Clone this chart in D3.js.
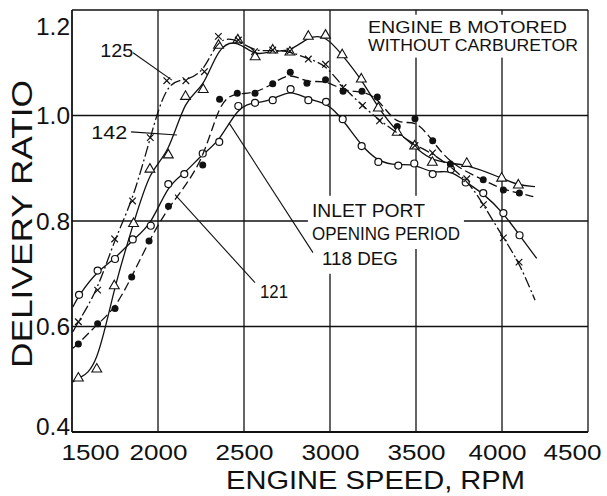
<!DOCTYPE html>
<html><head><meta charset="utf-8">
<script src="https://cdn.jsdelivr.net/npm/d3@7"></script>
<style>
html,body{margin:0;padding:0;background:#fff;}
svg{display:block;}
text{font-family:"Liberation Sans",Arial,sans-serif;font-weight:normal;fill:#111;}
</style></head>
<body>
<svg id="c" width="607" height="496"></svg>
<script>
// ---- data ----
const xTicks = [1500, 2000, 2500, 3000, 3500, 4000, 4500];
const yTicks = [0.4, 0.6, 0.8, 1.0, 1.2];
const yTickLabels = ["0.4", "0.6", "0.8", "1.0", "1.2"];

// 118 deg inlet-port opening (open circles, solid line)
const rpm118 = [1541,1649,1750,1853,1958,2060,2153,2260,2356,2467,2564,2667,2771,2874,2977,3074,3184,3281,3397,3490,3597,3703,3789,3891,4008,4102];
const dr118  = [0.660,0.706,0.728,0.765,0.791,0.870,0.889,0.928,0.950,1.018,1.024,1.029,1.050,1.029,1.026,0.993,0.942,0.912,0.905,0.909,0.889,0.898,0.873,0.853,0.815,0.773];
const ends118 = [[1505, 0.637], [4202, 0.729]];

// 121 deg (filled circles, dashed line)
const rpm121 = [1537,1649,1750,1847,1948,2061,2260,2358,2461,2564,2667,2769,2866,2974,3076,3186,3275,3391,3494,3597,3700,3891,4008,4101];
const dr121  = [0.567,0.605,0.634,0.694,0.762,0.828,0.906,1.031,1.042,1.042,1.060,1.082,1.061,1.068,1.046,1.046,1.035,0.979,0.994,0.952,0.908,0.878,0.859,0.853];
const ends121 = [[1505, 0.559], [4182, 0.846]];

// 142 deg (open triangles, solid line)
const rpm142 = [1537,1644,1746,1858,1953,2060,2160,2263,2352,2464,2565,2667,2767,2874,2974,3071,3182,3281,3391,3492,3595,3795,3998,4095];
const dr142  = [0.502,0.519,0.677,0.795,0.898,0.925,1.036,1.049,1.133,1.143,1.111,1.124,1.120,1.150,1.152,1.115,1.069,1.014,0.968,0.942,0.911,0.909,0.881,0.868];
const ends142 = [[1505, 0.495], [4192, 0.865]];

// 125 deg (crosses, dash-dot line)
const rpm125 = [1537,1649,1748,1852,1955,2051,2162,2270,2351,2467,2561,2667,2767,2874,2974,3076,3189,3288,3494,3596,3795,3892,4008,4099];
const dr125  = [0.609,0.669,0.766,0.838,0.958,1.066,1.066,1.083,1.150,1.143,1.121,1.124,1.122,1.107,1.097,1.053,1.019,0.990,0.943,0.929,0.880,0.831,0.768,0.722];
const ends125 = [[1505, 0.590], [4192, 0.650]];

// ---- chart ----
const W = 607, H = 496;
const m = {left: 72, right: 19, top: 10, bottom: 64};
const svg = d3.select("#c");
const x = d3.scaleLinear().domain([1500, 4500]).range([m.left, W - m.right]);
const y = d3.scaleLinear().domain([0.4, 1.2]).range([H - m.bottom, m.top]);
const ink = "#111";
const FONT = '"Liberation Sans",Arial,sans-serif';

// grid
const grid = svg.append("g");
grid.selectAll("line.v").data(xTicks).join("line")
  .attr("x1", d => x(d)).attr("x2", d => x(d))
  .attr("y1", y(1.2)).attr("y2", y(0.4))
  .attr("stroke", ink).attr("stroke-width", d => (d === 1500 ? 1.8 : 1.3));
grid.selectAll("line.h").data(yTicks).join("line")
  .attr("y1", d => y(d)).attr("y2", d => y(d))
  .attr("x1", x(1500)).attr("x2", x(4500))
  .attr("stroke", ink).attr("stroke-width", d => (d === 0.4 ? 1.8 : 1.3));

// axes labels (via d3 axes, domain/ticks hidden)
const xa = svg.append("g").attr("transform", `translate(0,${y(0.4)})`)
  .call(d3.axisBottom(x).tickValues(xTicks).tickSize(0).tickPadding(0).tickFormat(d3.format("d")));
xa.select(".domain").remove();
xa.selectAll("text").attr("font-size", 22).attr("fill", ink).attr("dy", 0).attr("y", 28)
  .attr("textLength", 58).attr("lengthAdjust", "spacingAndGlyphs")
  .attr("dx", d => d === 1500 ? 18 : (d === 4500 ? -16 : (d === 4000 ? -5 : 0)))
  .style("font-family", FONT);

const ya = svg.append("g").attr("transform", `translate(${x(1500)},0)`)
  .call(d3.axisLeft(y).tickValues(yTicks).tickSize(0).tickPadding(2)
    .tickFormat((d, i) => yTickLabels[i]));
ya.select(".domain").remove();
ya.selectAll("text").attr("font-size", 23).attr("fill", ink)
  .attr("textLength", 34).attr("lengthAdjust", "spacingAndGlyphs")
  .attr("dy", d => d === 1.2 ? "1.05em" : (d === 0.4 ? "0.12em" : "0.35em"))
  .style("font-family", FONT);

svg.append("text").attr("transform", `translate(32,${(80 + 368) / 2}) rotate(-90)`)
  .attr("text-anchor", "middle").attr("font-size", 29)
  .attr("textLength", 288).attr("lengthAdjust", "spacingAndGlyphs")
  .text("DELIVERY RATIO");
svg.append("text").attr("x", (226 + 525) / 2).attr("y", 489)
  .attr("text-anchor", "middle").attr("font-size", 25)
  .attr("textLength", 299).attr("lengthAdjust", "spacingAndGlyphs")
  .text("ENGINE SPEED,  RPM");

// annotation texts (white backing to break grid)
const back = svg.append("g");
const curves = svg.append("g");
const ann = svg.append("g");
function label(vx, vy, txt, fs, len) {
  const t = ann.append("text").attr("x", x(vx)).attr("y", y(vy))
    .attr("font-size", fs).text(txt);
  if (len) t.attr("textLength", len).attr("lengthAdjust", "spacingAndGlyphs");
  return t;
}
function backing(t, px, py) {
  const b = t.node().getBBox();
  back.append("rect").attr("x", b.x - px).attr("y", b.y - py + 1)
    .attr("width", b.width + 2 * px).attr("height", b.height + 2 * py - 2).attr("fill", "#fff");
}
const tE1 = label(3221, 1.157, "ENGINE B MOTORED", 16, 199);
const tE2 = label(3221, 1.123, "WITHOUT CARBURETOR", 16, 210);
const tI1 = label(2895, 0.808, "INLET PORT", 18, 113);
const tI2 = label(2895, 0.764, "OPENING PERIOD", 18, 148);
const tI3 = label(2953, 0.717, "118 DEG", 18, 76);
[tE1, tE2].forEach(t => backing(t, 4, 5));
[tI1, tI2, tI3].forEach(t => backing(t, 4, 6));
label(1665, 1.110, "125", 18, 33);
label(1612, 0.956, "142", 18, 36);
label(2593, 0.654, "121", 18, 28);

function leader(a, b) {
  ann.append("line").attr("x1", x(a[0])).attr("y1", y(a[1]))
    .attr("x2", x(b[0])).attr("y2", y(b[1]))
    .attr("stroke", ink).attr("stroke-width", 1.1);
}
leader([1855, 1.119], [2081, 1.067]);
leader([1843, 0.969], [2110, 0.963]);
leader([2564, 0.683], [2099, 0.850]);
leader([2901, 0.740], [2413, 0.986]);

// curves + markers
const series = [
  {rpm: rpm118, dr: dr118, ends: ends118, dash: null, mark: "open"},
  {rpm: rpm121, dr: dr121, ends: ends121, dash: "9,4", mark: "filled"},
  {rpm: rpm142, dr: dr142, ends: ends142, dash: null, mark: "tri"},
  {rpm: rpm125, dr: dr125, ends: ends125, dash: "11,3,2,3", mark: "cross"}
];
const line = d3.line().x(d => x(d[0])).y(d => y(d[1])).curve(d3.curveBasis);
series.forEach(s => {
  const pts = s.rpm.map((r, i) => [r, s.dr[i]]);
  const path = [s.ends[0], ...pts, s.ends[1]];
  curves.append("path").attr("d", line(path)).attr("fill", "none")
    .attr("stroke", ink).attr("stroke-width", 1.3)
    .attr("stroke-dasharray", s.dash);
  const g = curves.append("g");
  pts.forEach(p => {
    const cx = x(p[0]), cy = y(p[1]);
    if (s.mark === "open") {
      g.append("circle").attr("cx", cx).attr("cy", cy).attr("r", 3.5)
        .attr("fill", "#fff").attr("stroke", ink).attr("stroke-width", 1.2);
    } else if (s.mark === "filled") {
      g.append("circle").attr("cx", cx).attr("cy", cy).attr("r", 3.5).attr("fill", ink);
    } else if (s.mark === "tri") {
      g.append("path").attr("d", d3.symbol(d3.symbolTriangle, 42)())
        .attr("transform", `translate(${cx},${cy})`)
        .attr("fill", "#fff").attr("stroke", ink).attr("stroke-width", 1.1);
    } else {
      g.append("path").attr("d", d3.symbol(d3.symbolX, 30)())
        .attr("transform", `translate(${cx},${cy})`)
        .attr("fill", "none").attr("stroke", ink).attr("stroke-width", 1.2);
    }
  });
});
</script>
</body></html>
